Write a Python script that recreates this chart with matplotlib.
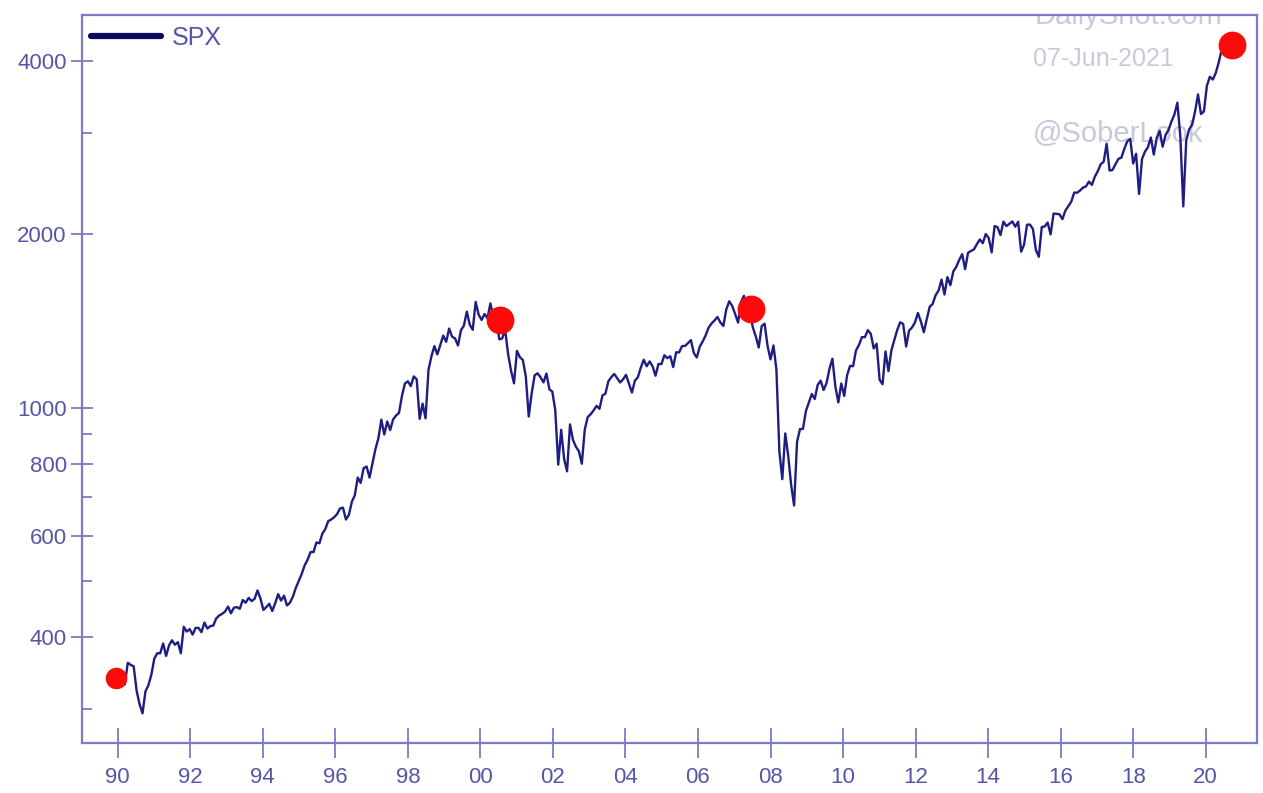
import numpy as np
import matplotlib
matplotlib.use("Agg")
import matplotlib.pyplot as plt
from matplotlib.lines import Line2D
from matplotlib.ticker import FixedLocator, NullFormatter

# S&P 500, monthly readings (Jan..Dec)
spx_1990s = [
    329, 332, 340, 331, 361, 358, 356, 323, 306, 295, 322, 330,
    344, 367, 375, 375, 390, 371, 387, 395, 388, 392, 375, 417,
    409, 413, 404, 415, 415, 408, 424, 414, 418, 419, 431, 436,
    439, 443, 452, 440, 450, 451, 448, 464, 459, 468, 462, 466,
    482, 467, 446, 451, 457, 444, 458, 475, 463, 472, 454, 459,
    470, 487, 501, 515, 533, 545, 562, 562, 584, 582, 605, 616,
    636, 640, 646, 654, 669, 671, 640, 652, 687, 705, 757, 741,
    786, 791, 757, 801, 848, 885, 954, 899, 947, 915, 955, 970,
    980, 1049, 1102, 1112, 1091, 1134, 1121, 957, 1017, 959, 1164, 1229,
    1280, 1238, 1286, 1335, 1302, 1373, 1329, 1320, 1283, 1363, 1389, 1469,
]
spx_2000s = [
    1394, 1366, 1527, 1452, 1421, 1455, 1431, 1518, 1437, 1429, 1315, 1320,
    1366, 1240, 1160, 1103, 1256, 1224, 1211, 1134, 966, 1060, 1139, 1148,
    1130, 1107, 1147, 1077, 1067, 990, 797, 916, 815, 776, 936, 880,
    856, 841, 800, 917, 964, 975, 990, 1008, 996, 1051, 1058, 1112,
    1131, 1145, 1126, 1107, 1121, 1141, 1102, 1063, 1115, 1130, 1174, 1212,
    1181, 1204, 1181, 1137, 1192, 1191, 1234, 1220, 1229, 1177, 1249, 1248,
    1280, 1281, 1295, 1311, 1245, 1223, 1277, 1304, 1336, 1378, 1401, 1418,
    1438, 1407, 1387, 1482, 1531, 1503, 1455, 1406, 1527, 1565, 1440, 1468,
    1379, 1331, 1273, 1386, 1400, 1280, 1214, 1283, 1166, 840, 752, 903,
    826, 735, 677, 873, 919, 919, 987, 1021, 1057, 1036, 1096, 1115,
]
spx_2010s = [
    1074, 1104, 1169, 1217, 1089, 1022, 1102, 1049, 1141, 1183, 1181, 1258,
    1286, 1327, 1326, 1364, 1345, 1268, 1292, 1119, 1099, 1253, 1158, 1258,
    1312, 1366, 1408, 1398, 1278, 1362, 1379, 1407, 1461, 1412, 1353, 1426,
    1498, 1515, 1569, 1598, 1669, 1573, 1686, 1633, 1725, 1757, 1806, 1848,
    1741, 1859, 1872, 1884, 1924, 1960, 1931, 2003, 1972, 1862, 2068, 2059,
    1995, 2105, 2068, 2086, 2107, 2063, 2104, 1867, 1920, 2079, 2080, 2044,
    1880, 1829, 2060, 2065, 2097, 2000, 2174, 2171, 2168, 2126, 2199, 2239,
    2279, 2364, 2363, 2384, 2412, 2423, 2470, 2438, 2519, 2575, 2648, 2674,
    2873, 2581, 2588, 2648, 2705, 2718, 2816, 2902, 2930, 2656, 2760, 2351,
    2704, 2784, 2834, 2946, 2752, 2942, 3025, 2840, 2977, 3038, 3141, 3231,
]
spx_2020s = [
    3386, 2954, 2237, 2912, 3044, 3100, 3271, 3500, 3236, 3270, 3622, 3756,
    3714, 3811, 3973, 4181, 4204, 4230,
]

# highlighted points
dot_years = [1990.0, 2000.85, 2007.95, 2021.55]
dot_values = [340, 1420, 1485, 4265]
dot_sizes = [14.5, 19, 19, 19]

year_labels = ['90', '92', '94', '96', '98', '00', '02', '04', '06', '08',
               '10', '12', '14', '16', '18', '20']
y_major = [400, 600, 800, 1000, 2000, 4000]
y_minor = [300, 500, 700, 900, 3000]

spx = np.array(spx_1990s + spx_2000s + spx_2010s + spx_2020s, dtype=float)
years = 1990 + np.arange(len(spx)) / 12.0

axis_col = '#7b7bc6'
label_col = '#5656a6'
line_col = '#1d1d82'
mark_col = '#ff0a0a'
wm_col = '#c9c9dc'

plt.rcParams['font.family'] = ['Liberation Sans', 'DejaVu Sans']

fig = plt.figure(figsize=(12.63, 7.93), dpi=100)
W, H = 1263, 793
ax = fig.add_axes([82 / W, 1 - 743 / H, (1257 - 82) / W, (743 - 15) / H])

# watermark (under the line)
ax.text(0.811, 0.9876, 'DailyShot.com', transform=ax.transAxes, fontsize=21,
        color=wm_col, va='baseline', ha='left', zorder=0, clip_on=True)
ax.text(0.809, 0.930, '07-Jun-2021', transform=ax.transAxes, fontsize=18,
        color=wm_col, va='baseline', ha='left', zorder=0)
ax.text(0.809, 0.8255, '@SoberLook', transform=ax.transAxes, fontsize=21,
        color=wm_col, va='baseline', ha='left', zorder=0)

ax.plot(years, spx, color=line_col, lw=1.7, zorder=3)
ax.plot(dot_years[:1], dot_values[:1], 'o', color=mark_col, ms=dot_sizes[0], zorder=4)
ax.plot(dot_years[1:], dot_values[1:], 'o', color=mark_col, ms=dot_sizes[1], zorder=4,
        linestyle='none')

ax.set_yscale('log')
ax.set_ylim(262, 4807)
ax.set_xlim(1989.04, 2022.25)

ax.yaxis.set_major_locator(FixedLocator(y_major))
ax.yaxis.set_minor_locator(FixedLocator(y_minor))
ax.set_yticklabels([str(v) for v in y_major])
ax.yaxis.set_minor_formatter(NullFormatter())

# the tick marks sit slightly off the calendar grid in the source chart
tick_pos = [1990.048 + 1.0251 * 2 * i for i in range(len(year_labels))]
ax.set_xticks(tick_pos)
ax.set_xticklabels(year_labels)
ax.xaxis.set_minor_locator(FixedLocator([]))

ax.tick_params(axis='y', which='major', direction='inout', length=16, width=1.3,
               color=axis_col, labelcolor=label_col, labelsize=16, pad=3)
ax.tick_params(axis='y', which='minor', direction='in', length=7.5, width=1.3,
               color=axis_col)
ax.tick_params(axis='x', which='major', direction='inout', length=22, width=1.3,
               color=axis_col, labelcolor=label_col, labelsize=16, pad=6)

for s in ax.spines.values():
    s.set_color(axis_col)
    s.set_linewidth(1.6)

handle = Line2D([0], [0], color='#0c0c5e', lw=4.5, solid_capstyle='round')
leg = ax.legend([handle], ['SPX'], loc='upper left', frameon=False,
                bbox_to_anchor=(0.0077, 0.9855), fontsize=18,
                handlelength=2.8, handletextpad=0.45,
                borderaxespad=0.0, borderpad=0.0)
for t in leg.get_texts():
    t.set_color(label_col)

fig.savefig('out.png', dpi=100)
